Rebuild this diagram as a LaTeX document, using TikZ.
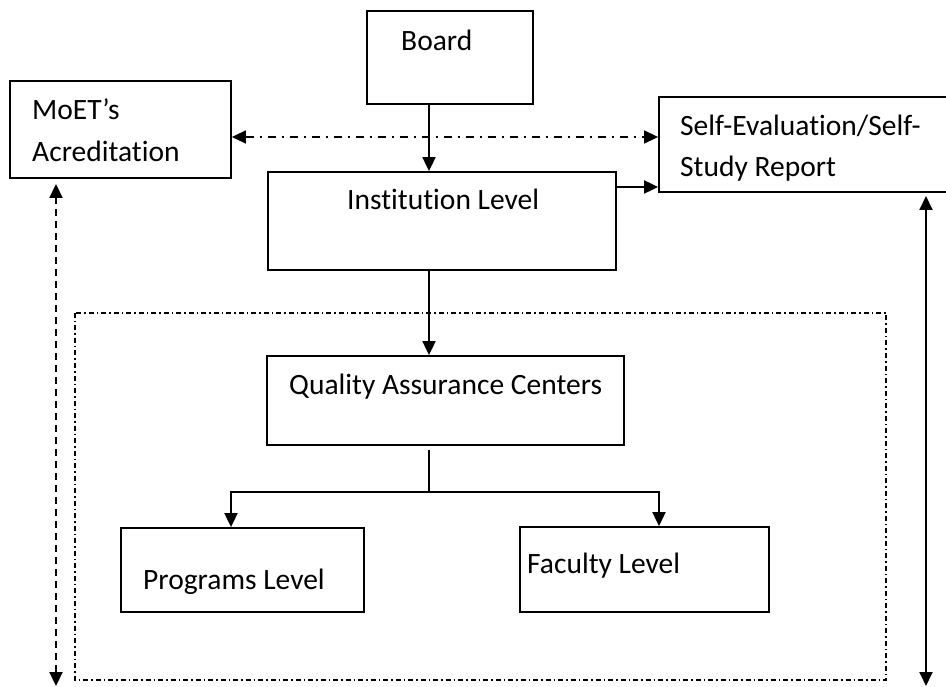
\documentclass[tikz,border=0pt]{standalone}
\usepackage{fontspec}
\setmainfont{Carlito}[Ligatures=NoCommon]
\usetikzlibrary{arrows.meta}

\begin{document}
\begin{tikzpicture}[x=1pt, y=-1pt, >={Triangle[length=14pt, width=13pt]},
    box/.style={draw, rectangle, line width=1.8pt, inner sep=0pt},
    lbl/.style={inner sep=0pt, anchor=base west, font=\fontsize{29.5}{35}\selectfont},
    arr/.style={line width=1.9pt, ->},
    dashdot/.style={line width=1.5pt, dash pattern=on 5pt off 3pt on 1.5pt off 3pt}]
    \useasboundingbox (0,0) rectangle (946,687);

    % boxes
    \node[box, minimum width=166pt, minimum height=93pt] (board) at (450,57.5) {};
    \node[box, minimum width=221pt, minimum height=97pt] (moet) at (120.5,129.5) {};
    \node[box, minimum width=288pt, minimum height=95pt] (self) at (803,144.5) {};
    \node[box, minimum width=348pt, minimum height=98pt] (inst) at (442,221) {};
    \node[box, minimum width=357pt, minimum height=89pt] (qa) at (445.5,400.5) {};
    \node[box, minimum width=243pt, minimum height=84pt] (prog) at (242.5,570) {};
    \node[box, minimum width=249pt, minimum height=85pt] (fac) at (644.5,569.5) {};

    % texts
    \node[lbl] (boardtxt) at (401,51) {Board};
    \node[lbl] (moettxt) at (32,120) {MoET’s};
    \node[lbl] (acrtxt) at (32,162) {Acreditation};
    \node[lbl] (selftxt) at (680,136) {Self-Evaluation/Self-};
    \node[lbl] (studytxt) at (680,177) {Study Report};
    \node[lbl] (insttxt) at (347,210) {Institution Level};
    \node[lbl] (qatxt) at (289,395) {Quality Assurance Centers};
    \node[lbl] (progtxt) at (143,589) {Programs Level};
    \node[lbl] (factxt) at (527,573) {Faculty Level};

    % dash-dotted frame round the centers
    \draw[dashdot] (75,313) rectangle (886,680);

    % helper coordinates
    \coordinate (spine) at (429,0);
    \coordinate (arow) at (0,137);
    \coordinate (irow) at (0,187);
    \coordinate (stemtop) at (429,450);
    \coordinate (split) at (429,492);
    \coordinate (lsplit) at (231,492);
    \coordinate (rsplit) at (659,492);
    \coordinate (ltop) at (56,184);
    \coordinate (lbot) at (56,686);
    \coordinate (rtop) at (926,196);
    \coordinate (rbot) at (926,686);

    % connectors
    \draw[arr] (board.south -| spine) -- (inst.north -| spine);
    \draw[arr] (inst.south -| spine) -- (qa.north -| spine);
    \draw[arr] (inst.east |- irow) -- (self.west |- irow);
    \draw[line width=1.6pt, <->, dash pattern=on 8pt off 6pt on 2pt off 6pt]
        (moet.east |- arow) -- (self.west |- arow);
    \draw[line width=1.2pt] (stemtop) -- (split);
    \draw[arr] (split) -| (prog.north -| lsplit);
    \draw[arr] (split) -| (fac.north -| rsplit);
    \draw[line width=2.2pt, <->, dash pattern=on 7pt off 5pt] (ltop) -- (lbot);
    \draw[line width=1.9pt, <->] (rtop) -- (rbot);
\end{tikzpicture}
\end{document}
